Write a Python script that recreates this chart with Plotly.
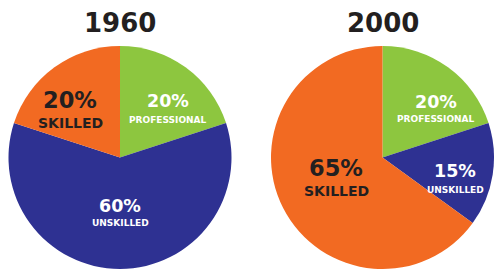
import plotly.graph_objects as go

years = ["1960", "2000"]
categories = ["PROFESSIONAL", "UNSKILLED", "SKILLED"]
values_1960 = [20, 60, 20]
values_2000 = [20, 15, 65]
colors = ["#8DC63F", "#2E3192", "#F26A22"]
label_colors = ["#FFFFFF", "#FFFFFF", "#231F20"]

W, H = 495, 269
FONT = "'DejaVu Sans', 'Liberation Sans', Arial, sans-serif"

fig = go.Figure()
domains = [
    dict(x=[6 / W, 234 / W], y=[0, 1 - 46 / H]),
    dict(x=[270 / W, 1.0], y=[0, 1 - 46 / H]),
]
for vals, dom, yr in zip([values_1960, values_2000], domains, years):
    fig.add_trace(go.Pie(
        labels=categories, values=vals, sort=False, direction="clockwise",
        rotation=0, marker=dict(colors=colors, line=dict(width=0)),
        textinfo="none", hoverinfo="label+percent", domain=dom,
        showlegend=False, name=yr,
    ))

# label positions (pixel centres): (x, y of percentage, y of name)
label_pos = {
    "1960": {"PROFESSIONAL": (168, 101, 120), "UNSKILLED": (120, 206, 223), "SKILLED": (70, 100, 123)},
    "2000": {"PROFESSIONAL": (436, 102, 119), "UNSKILLED": (455, 171, 190), "SKILLED": (336, 168, 191)},
}
pct_sizes = {"PROFESSIONAL": 17.5, "UNSKILLED": 17.5, "SKILLED": 22.5}
name_sizes = {"PROFESSIONAL": 9, "UNSKILLED": 9, "SKILLED": 14}

title_x = {"1960": 120, "2000": 383}
for yr, vals in zip(years, [values_1960, values_2000]):
    fig.add_annotation(x=title_x[yr] / W, y=1 - 23 / H, xref="paper", yref="paper",
                       text=yr, showarrow=False, xanchor="center", yanchor="middle",
                       font=dict(family=FONT, size=26, color="#231F20", weight="bold"))
    for cat, v, lc in zip(categories, vals, label_colors):
        px, py1, py2 = label_pos[yr][cat]
        fig.add_annotation(x=px / W, y=1 - py1 / H, xref="paper", yref="paper",
                           text=f"{v}%", showarrow=False, xanchor="center", yanchor="middle",
                           borderpad=0,
                           font=dict(family=FONT, size=pct_sizes[cat], color=lc, weight="bold"))
        fig.add_annotation(x=px / W, y=1 - py2 / H, xref="paper", yref="paper",
                           text=cat, showarrow=False, xanchor="center", yanchor="middle",
                           borderpad=0,
                           font=dict(family=FONT, size=name_sizes[cat], color=lc, weight="bold"))

fig.update_layout(width=W, height=H, margin=dict(l=0, r=0, t=0, b=0),
                  paper_bgcolor="white", plot_bgcolor="white")
fig.write_html("out.html", config={"displayModeBar": False},
               post_script="document.body.style.margin='0';document.body.style.overflow='hidden';")
